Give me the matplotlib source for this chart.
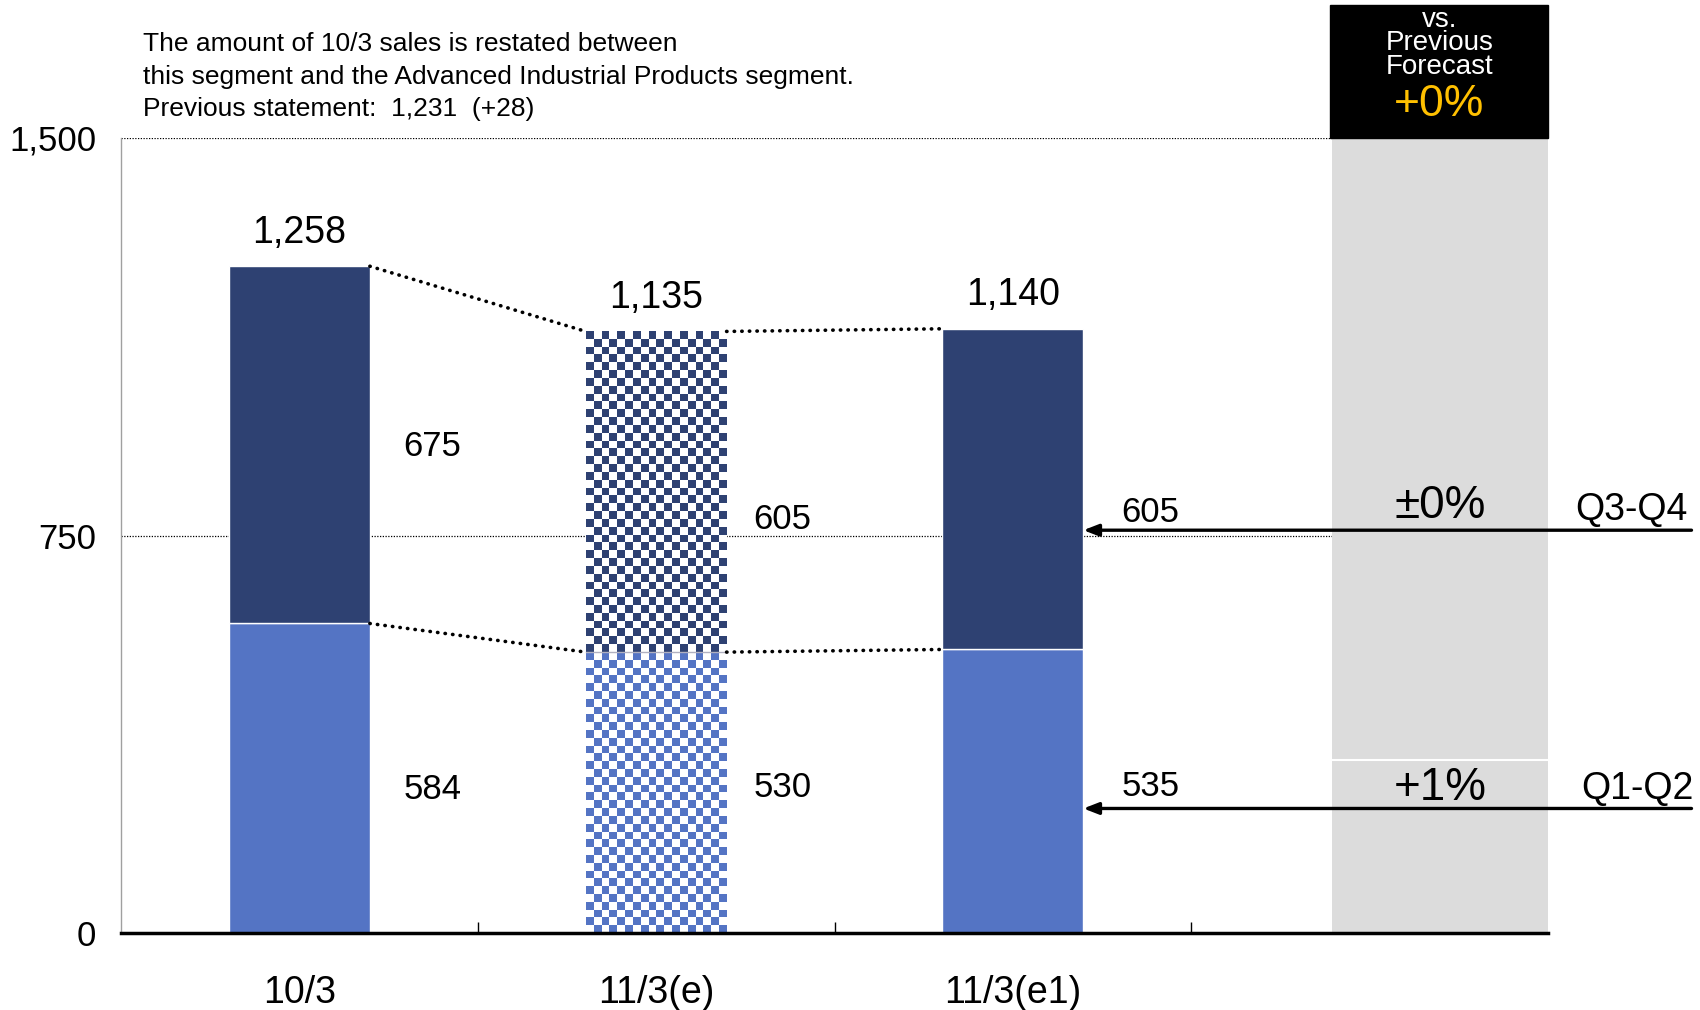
import numpy as np
import matplotlib.pyplot as plt
from matplotlib.patches import Rectangle
from matplotlib import font_manager

# data
categories = ["10/3", "11/3(e)", "11/3(e1)"]
q1q2 = [584, 530, 535]
q3q4 = [675, 605, 605]
totals = [1258, 1135, 1140]
checkered = [False, True, False]
change_q3q4 = "±0%"
change_q1q2 = "+1%"
change_total = "+0%"
yticks = [0, 750, 1500]
yticklabels = ["0", "750", "1,500"]
note_lines = ["The amount of 10/3 sales is restated between",
              "this segment and the Advanced Industrial Products segment.",
              "Previous statement:  1,231  (+28)"]

dark = "#2E4172"
light = "#5474C4"
panel_gray = "#DCDCDC"

names = {f.name for f in font_manager.fontManager.ttflist}
narrow = ["Liberation Sans Narrow", "Liberation Sans", "DejaVu Sans"]
if "Liberation Sans Narrow" not in names:
    narrow = ["Liberation Sans", "DejaVu Sans"]
arial = ["Liberation Sans", "DejaVu Sans"]

fig = plt.figure(figsize=(17, 10.1), dpi=100)
ax = fig.add_axes([0.0712, 0.0762, 0.8394, 0.7872])
x = np.arange(len(categories)) + 0.5
w = 0.395

ax.set_xlim(0, 4)
ax.set_ylim(0, 1500)

# grid lines
for yv in (750, 1500):
    ax.axhline(yv, color="black", lw=0.9, ls=(0, (1, 1.2)), zorder=0.5)

# comparison panel
ax.add_patch(Rectangle((3.395, 0), 4 - 3.395, 1500, color=panel_gray, zorder=1, lw=0))
ax.plot([3.395, 4], [326, 326], color="white", lw=1.5, zorder=1.1)


def checker(color, nx, ny):
    rgb = np.array(plt.matplotlib.colors.to_rgb(color))
    img = np.ones((ny, nx, 3))
    ii, jj = np.indices((ny, nx))
    img[(ii + jj) % 2 == 0] = rgb
    return img


px_per_unit = 795 / 1500
sq = 7.8
for i in range(len(categories)):
    if checkered[i]:
        nx = 18
        for bot, h, col in ((0, q1q2[i], light), (q1q2[i], q3q4[i], dark)):
            ny = int(round(h * px_per_unit / sq))
            ax.imshow(checker(col, nx, ny), extent=(x[i] - w / 2, x[i] + w / 2, bot, bot + h),
                      aspect="auto", interpolation="nearest", zorder=2)
        ax.plot([x[i] - w / 2, x[i] + w / 2], [q1q2[i]] * 2, color="#B0B0C0", lw=1, zorder=2.1)
    else:
        ax.bar(x[i], q1q2[i], w, color=light, edgecolor="white", lw=1, zorder=2)
        ax.bar(x[i], q3q4[i], w, bottom=q1q2[i], color=dark, edgecolor="white", lw=1, zorder=2)

ax.set_xlim(0, 4)
ax.set_ylim(0, 1500)

# dotted connectors
for i in range(len(categories) - 1):
    for vals in (totals, q1q2):
        ax.plot([x[i] + w / 2, x[i + 1] - w / 2], [vals[i], vals[i + 1]], color="black",
                lw=2.6, ls=(0, (0.1, 2.0)), dash_capstyle="round", zorder=3)

# labels
for i in range(len(categories)):
    ax.text(x[i], totals[i] + 63, f"{totals[i]:,}", ha="center", va="center",
            fontsize=27, family=narrow, zorder=4)
lab_y_top = [918, 780, 793]
lab_y_bot = [270, 274, 276]
lab_dx = [0.094, 0.076, 0.106]
for i in range(len(categories)):
    ax.text(x[i] + w / 2 + lab_dx[i], lab_y_top[i], f"{q3q4[i]}", ha="left", va="center",
            fontsize=25, family=narrow, zorder=4)
    ax.text(x[i] + w / 2 + lab_dx[i], lab_y_bot[i], f"{q1q2[i]}", ha="left", va="center",
            fontsize=25, family=narrow, zorder=4)

# arrows to last bar
for yv in (760, 235):
    ax.annotate("", xy=(x[2] + w / 2, yv), xycoords="data",
                xytext=(0.995, yv), textcoords=("figure fraction", "data"),
                arrowprops=dict(arrowstyle="-|>,head_length=0.9,head_width=0.35", color="black",
                                lw=2.4, shrinkA=0, shrinkB=0), zorder=5, annotation_clip=False)

ax.text(3.697, 806, change_q3q4, ha="center", va="center", fontsize=33, family=arial, zorder=4)
ax.text(3.697, 274, change_q1q2, ha="center", va="center", fontsize=33, family=arial, zorder=4)
ax.text(4.235, 798, "Q3-Q4", ha="center", va="center", fontsize=27, family=narrow,
        clip_on=False, zorder=4)
ax.text(4.25, 272, "Q1-Q2", ha="center", va="center", fontsize=27, family=narrow,
        clip_on=False, zorder=4)

# header box
tr = ax.get_xaxis_transform()
ax.add_patch(Rectangle((3.39, 1.0), 4 - 3.39, 0.167, transform=tr, color="black",
                       clip_on=False, zorder=5))
for yy, s in ((1.149, "vs."), (1.119, "Previous"), (1.089, "Forecast")):
    ax.text(3.695, yy, s, transform=tr, ha="center", va="center", color="white",
            fontsize=20, family=arial, zorder=6)
ax.text(3.695, 1.0415, change_total, transform=tr, ha="center", va="center", color="#FFC000",
        fontsize=32, family=arial, zorder=6)

# note
for yy, s in zip((0.956, 0.924, 0.892), note_lines):
    fig.text(0.084, yy, s, ha="left", va="center", fontsize=19, family=narrow)

# axes styling
for s in ("top", "right"):
    ax.spines[s].set_visible(False)
ax.spines["left"].set_color("#A0A0A0")
ax.spines["left"].set_linewidth(1)
ax.spines["bottom"].set_linewidth(2.5)
ax.spines["bottom"].set_zorder(6)
ax.set_yticks(yticks)
ax.set_yticklabels(yticklabels, fontsize=25, family=narrow)
ax.tick_params(axis="y", length=0, pad=18)
ax.set_xticks([1, 2, 3])
ax.set_xticklabels([])
ax.tick_params(axis="x", which="major", direction="in", length=8, width=1)
ax.set_xticks(x, minor=True)
ax.set_xticklabels(categories, minor=True, fontsize=27, family=narrow)
ax.tick_params(axis="x", which="minor", length=0, pad=30)

fig.savefig("out.png", dpi=100)
